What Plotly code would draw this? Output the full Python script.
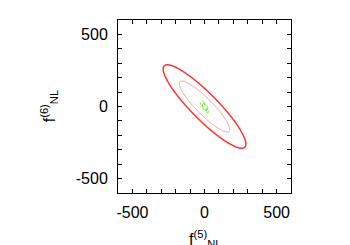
import numpy as np
import plotly.graph_objects as go

# Forecast constraints: sigmas and correlation
red_sigma = [115.5, 116.5]
red_rho = -0.90
green_sigma = [12.0, 17.0]
green_rho = -0.75
center = [0.0, 0.0]
levels = [2.30, 6.17]          # 68% and 95% for 2 params
red_colors = ["#ff9090", "#ff3535"]
red_widths = [1, 1.5]
green_colors = ["#66dd22", "#aaf070"]

tick_vals = [-500, 0, 500]
tick_text = ["-500", "0", "500"]


def chi2_grid(sig, rho, half, n):
    g = np.linspace(-half, half, n)
    X, Y = np.meshgrid(g + center[0], g + center[1])
    dx = (X - center[0]) / sig[0]
    dy = (Y - center[1]) / sig[1]
    z = (dx**2 - 2 * rho * dx * dy + dy**2) / (1 - rho**2)
    return g + center[0], g + center[1], z


fig = go.Figure()

xr, yr, zr = chi2_grid(red_sigma, red_rho, 420, 601)
for lev, col, w in zip(levels, red_colors, red_widths):
    fig.add_trace(go.Contour(
        x=xr, y=yr, z=zr, showscale=False, hoverinfo="skip",
        contours=dict(start=lev, end=lev, size=1, coloring="none"),
        line=dict(color=col, width=w),
    ))

xg, yg, zg = chi2_grid(green_sigma, green_rho, 70, 281)
for lev, col in zip(levels, green_colors):
    fig.add_trace(go.Contour(
        x=xg, y=yg, z=zg, showscale=False, hoverinfo="skip",
        contours=dict(start=lev, end=lev, size=1, coloring="none"),
        line=dict(color=col, width=1.2, dash="dot"),
    ))

font = dict(family="Liberation Sans, Arial", size=16, color="black")
axis_common = dict(
    range=[-600, 600], tickvals=tick_vals, ticktext=tick_text,
    ticks="inside", ticklen=4, tickwidth=1, tickcolor="black",
    minor=dict(dtick=100, ticks="inside", ticklen=4, tickcolor="black", tickwidth=1),
    showline=True, linecolor="black", linewidth=1, mirror="allticks",
    showgrid=False, zeroline=False,
    tickfont=font,
)

fig.update_layout(
    width=350, height=245,
    margin=dict(l=110, r=67, t=12, b=60),
    paper_bgcolor="white", plot_bgcolor="white",
    showlegend=False,
    xaxis=dict(**axis_common, ticklabelstandoff=5),
    yaxis=dict(**axis_common, ticklabelstandoff=6),
    annotations=[
        dict(text="f<sup>(5)</sup><sub>NL</sub>", xref="paper", yref="paper",
             x=0.5, y=-0.19, xanchor="center", yanchor="top", showarrow=False,
             font=font),
        dict(text="f<sup>(6)</sup><sub>NL</sub>", xref="paper", yref="paper",
             x=-0.40, y=0.5, xanchor="center", yanchor="middle", showarrow=False,
             textangle=-90, font=font),
    ],
)

fig.write_html("out.html")
